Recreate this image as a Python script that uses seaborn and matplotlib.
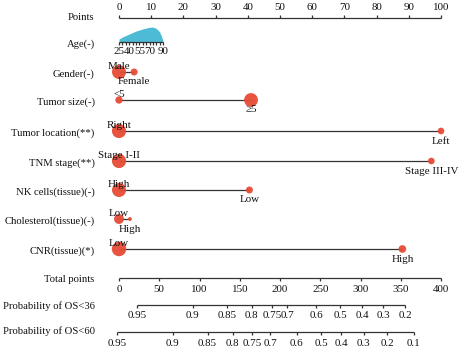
import numpy as np
import pandas as pd
import matplotlib
matplotlib.use("Agg")
import matplotlib.pyplot as plt
import seaborn as sns

# ---- values (points scale 0-100) ----
variables = ["Gender(-)", "Tumor size(-)", "Tumor location(**)", "TNM stage(**)",
             "NK cells(tissue)(-)", "Cholesterol(tissue)(-)", "CNR(tissue)(*)"]
level_names = [["Male", "Female"], ["<5", "≥5"], ["Right", "Left"],
               ["Stage I-II", "Stage III-IV"], ["High", "Low"], ["Low", "High"],
               ["Low", "High"]]
level_points = [[0, 4.7], [0, 41], [0, 100], [0, 97], [0, 40.5], [0, 3.4], [0, 88]]
level_share = [[0.80, 0.20], [0.22, 0.78], [0.82, 0.18], [0.82, 0.18],
               [0.80, 0.20], [0.40, 0.06], [0.85, 0.24]]

points_ticks = [0, 10, 20, 30, 40, 50, 60, 70, 80, 90, 100]

# age: continuous, 25 -> 0 points, 90 -> 13.7 points
age_min, age_max, age_max_points = 25, 90, 13.7
age_ticks = [25, 30, 35, 40, 45, 50, 55, 60, 65, 70, 75, 80, 85, 90]
age_labels = [25, 40, 55, 70, 90]
age_dens_x = [25, 30, 40, 50, 55, 60, 65, 70, 75, 80, 85, 88, 90]
age_dens_y = [0.20, 0.33, 0.53, 0.73, 0.80, 0.87, 0.93, 0.98, 1.0, 0.90, 0.67, 0.33, 0.05]

total_ticks = [0, 50, 100, 150, 200, 250, 300, 350, 400]
os36_probs = ["0.95", "0.9", "0.85", "0.8", "0.75", "0.7", "0.6", "0.5", "0.4", "0.3", "0.2"]
os36_total = [22, 91.5, 134, 165, 190, 209, 245, 275, 302, 328.5, 355.5]
os60_probs = ["0.95", "0.9", "0.85", "0.8", "0.75", "0.7", "0.6", "0.5", "0.4", "0.3", "0.2", "0.1"]
os60_total = [-2, 67, 110, 141, 165, 188, 221, 251, 276, 304, 333, 366]

# ---- layout (pixel rows, y grows downward) ----
W, H = 460, 351
x0_px, px_per_pt = 119, 3.22
row_y = [72, 100, 131, 161, 190, 219, 249]
points_y, age_y, total_y, os36_y, os60_y = 18, 42, 278, 305, 332
label_x = -7.6
red = "#E64B35"
cyan = "#4DBBD5"
fs = 7.7
tfs = 7.9

sns.set_theme(style="white")
plt.rcParams["font.family"] = ["Liberation Serif", "DejaVu Serif"]

fig = plt.figure(figsize=(W / 100, H / 100), dpi=100)
ax = fig.add_axes([0, 0, 1, 1])

line_kw = dict(color="#333333", lw=0.9, solid_capstyle="butt")


def scale(y, xs, labels, up, lab_off, tick=3):
    ax.plot([min(xs), max(xs)], [y, y], **line_kw)
    d = -tick if up else tick
    for x, lab in zip(xs, labels):
        ax.plot([x, x], [y, y + d], **line_kw)
        if lab != "":
            ax.text(x, y + lab_off, str(lab), ha="center", va="center", fontsize=tfs,
                    color="#111111")


def row_label(text, y):
    ax.text(label_x, y, text, ha="right", va="center", fontsize=fs, color="#111111")


# Points
scale(points_y, points_ticks, points_ticks, True, -11)
row_label("Points", points_y - 1)

# Age
to_pts = lambda a: (np.asarray(a, float) - age_min) / (age_max - age_min) * age_max_points
ax.fill_between(to_pts(age_dens_x), age_y, age_y - 15 * np.asarray(age_dens_y),
                color=cyan, lw=0)
scale(age_y, to_pts(age_ticks), [""] * len(age_ticks), False, 0)
for a in age_labels:
    ax.text(to_pts(a), age_y + 9.5, str(a), ha="center", va="center", fontsize=tfs,
            color="#111111")
row_label("Age(-)", age_y + 2.5)

# categorical variables
rows = []
for name, y, labs, pts, share in zip(variables, row_y, level_names, level_points, level_share):
    ax.plot([min(pts), max(pts)], [y, y], **line_kw)
    row_label(name, y + 2)
    for i, (lab, p, s) in enumerate(zip(labs, pts, share)):
        rows.append({"pts": p, "y": y, "share": s})
        off = -5.5 if i == 0 else 10
        ax.text(p, y + off, lab, ha="center", va="center", fontsize=tfs, zorder=4,
                color="#111111")
df = pd.DataFrame(rows)
sns.scatterplot(data=df, x="pts", y="y", size="share", sizes=(0, 127), size_norm=(0, 1),
                color=red, alpha=0.95, edgecolor="none", legend=False, ax=ax, zorder=3)

# Total points and probabilities (total points 0-400 -> 0-100 on the points scale)
scale(total_y, [t / 4 for t in total_ticks], total_ticks, False, 11)
row_label("Total points", total_y + 2)
scale(os36_y, [t / 4 for t in os36_total], os36_probs, False, 10.5)
row_label("Probability of OS<36", os36_y + 1)
scale(os60_y, [t / 4 for t in os60_total], os60_probs, False, 11)
row_label("Probability of OS<60", os60_y - 1)

ax.set_xlim(-x0_px / px_per_pt, (W - x0_px) / px_per_pt)
ax.set_ylim(H, 0)
ax.axis("off")

fig.savefig("out.png", dpi=100)
